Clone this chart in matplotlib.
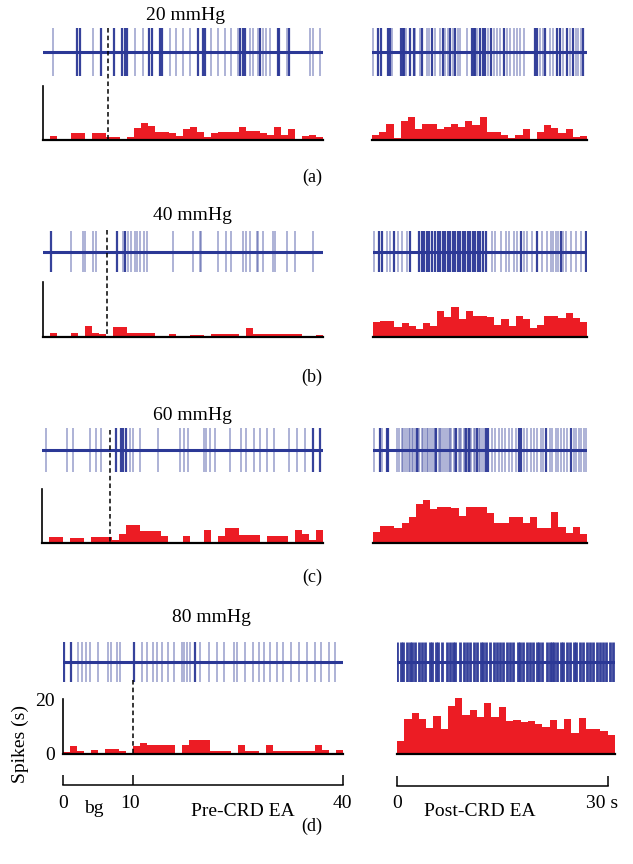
import matplotlib
matplotlib.use('Agg')
import matplotlib.pyplot as plt
from matplotlib.transforms import blended_transform_factory

plt.rcParams['font.family'] = ['Liberation Serif', 'DejaVu Serif']

W, H = 633, 864

pressures = ['20 mmHg', '40 mmHg', '60 mmHg', '80 mmHg']
panel_tags = ['(a)', '(b)', '(c)', '(d)']
onsets = [9.3, 9.1, 9.7, 10.0]   # end of background (s)

# spike times (s); "big" = large-amplitude unit, "small" = small unit
a_pre_big = [4.9, 5.3, 8.3, 10.1, 11.3, 11.7, 12.0, 15.1, 15.5, 16.7, 17.0,
             22.1, 22.9, 23.1, 28.2, 28.5, 28.8, 31.0, 33.6, 33.7, 35.2]
a_pre_small = [1.4, 7.1, 13.2, 14.3, 18.1, 19.0, 20.0, 21.0, 24.0, 25.0, 26.0,
               26.9, 27.9, 29.5, 30.0, 30.7, 31.4, 31.8, 32.4, 34.8, 38.1,
               38.6, 39.5]
a_post_big = [0.9, 1.3, 2.2, 2.5, 4.0, 4.3, 4.5, 5.3, 5.8, 7.0, 8.4, 9.9, 10.9,
              11.6, 14.0, 14.2, 14.4, 15.1, 15.5, 15.8, 16.6, 18.4, 22.8, 23.0,
              24.2, 25.8, 26.3, 27.2, 28.1, 29.5]
a_post_small = [0.2, 2.8, 4.8, 6.0, 6.7, 7.7, 7.9, 8.8, 9.5, 10.2, 10.6, 11.3,
                12.0, 12.3, 13.3, 14.7, 16.2, 17.0, 17.4, 17.9, 18.8, 19.3,
                19.8, 20.2, 20.7, 21.2, 23.5, 23.9, 24.9, 25.3, 26.7, 27.6,
                28.5, 28.8, 29.2]

b_pre_big = [1.2, 10.6, 11.7]
b_pre_small = [4.0, 5.7, 6.0, 7.1, 7.6, 11.4, 12.1, 12.6, 13.1, 13.4, 13.9,
               14.4, 14.9, 18.6, 21.4, 22.4, 22.6, 25.0, 26.2, 26.9, 28.6,
               29.0, 29.5, 30.5, 30.7, 31.4, 32.8, 33.1, 34.8, 36.0, 38.6]
b_post_big = [0.8, 1.3, 2.9, 5.2, 6.5, 6.9, 7.2, 7.6, 7.9, 8.3, 8.7, 9.1, 9.4,
              9.8, 10.1, 10.5, 10.8, 11.2, 11.5, 11.9, 12.2, 12.6, 12.9, 13.3,
              13.6, 14.0, 14.3, 14.7, 15.0, 15.4, 15.9, 20.7, 23.0, 26.3, 29.9]
b_post_small = [0.1, 1.9, 2.4, 3.5, 4.1, 4.8, 16.7, 17.1, 17.9, 18.6, 19.0,
                19.7, 20.2, 21.1, 21.6, 22.3, 23.7, 24.4, 24.9, 25.2, 25.6,
                25.9, 26.6, 27.0, 27.7, 28.4, 29.1]

c_pre_big = [10.5, 11.3, 11.6, 12.0, 38.6, 39.6]
c_pre_small = [0.6, 3.5, 4.4, 6.8, 7.7, 8.4, 12.5, 12.9, 13.9, 16.5, 19.6,
               20.2, 20.8, 23.0, 23.4, 23.9, 24.6, 26.7, 28.3, 29.1, 30.2,
               31.0, 32.0, 33.0, 35.1, 36.3, 37.5]
c_post_big = [1.0, 1.9, 2.1, 6.1, 8.9, 11.7, 13.1, 13.4, 14.6, 15.9, 16.1,
              20.4, 20.7, 24.3, 27.7]
c_post_small = [0.2, 1.2, 3.3, 3.7, 4.0, 4.2, 4.45, 4.7, 5.0, 5.2, 5.4, 5.6,
                5.85, 6.3, 6.5, 6.8, 7.0, 7.3, 7.5, 7.7, 8.0, 8.25, 8.5, 8.7,
                9.2, 9.4, 9.6, 9.8, 10.1, 10.4, 10.6, 10.8, 11.0, 11.3, 11.5,
                12.05, 12.2, 12.4, 12.7, 12.9, 13.25, 13.6, 13.8, 14.1, 14.35,
                14.8, 15.0, 15.25, 15.5, 16.7, 17.1, 17.6, 18.1, 18.5, 19.0,
                19.5, 20.0, 21.1, 21.6, 22.1, 22.5, 23.0, 23.5, 23.9, 24.8,
                25.1, 25.6, 25.9, 26.3, 26.8, 27.2, 28.2, 28.5, 28.9, 29.2,
                29.6, 29.9]

d_pre_big = [0.2, 1.1, 10.1, 18.9]
d_pre_small = [2.2, 2.7, 3.3, 3.9, 5.0, 6.4, 6.8, 7.7, 8.2, 11.3, 12.0, 12.9,
               13.4, 14.1, 15.0, 15.8, 17.0, 17.3, 17.7, 18.1, 19.6, 20.8,
               22.0, 23.0, 24.4, 24.9, 26.0, 27.2, 28.0, 28.7, 29.6, 30.6,
               31.4, 32.5, 33.7, 34.9, 36.0, 36.8, 38.0, 38.9]
d_post_big = [0.0, 0.5, 0.8, 1.4, 1.8, 2.1, 2.5, 3.0, 3.4, 3.9, 4.5, 4.8, 5.3,
              5.7, 6.2, 6.9, 7.3, 7.7, 8.0, 8.7, 9.2, 9.7, 10.1, 10.6, 11.0,
              11.5, 11.9, 12.3, 12.8, 13.3, 13.8, 14.2, 14.6, 15.1, 15.6, 16.0,
              16.6, 16.9, 17.4, 17.9, 18.3, 18.7, 19.2, 19.6, 20.0, 20.6, 21.1,
              21.3, 21.6, 22.0, 22.5, 22.9, 23.4, 23.8, 24.3, 24.7, 25.2, 25.6,
              26.1, 26.5, 27.0, 27.5, 27.9, 28.4, 28.8, 29.3, 29.7]
d_post_small = []

# firing rate, spikes per 1 s bin (40 bins pre, 30 bins post)
a_pre_rate = [0, 1.5, 0.5, 0.5, 2.5, 2.5, 0.5, 2.5, 2.5, 1, 1, 0.3, 1.2, 4.3,
              6.2, 5.2, 3, 3, 2.5, 1.5, 4, 5, 3, 1.2, 2.5, 3, 3, 3, 5, 3.3,
              3.3, 2.5, 2, 5, 2, 4, 0.5, 1.5, 2, 1]
a_post_rate = [2, 3, 5.8, 0.6, 7, 8.5, 4, 5.8, 5.8, 4, 5, 5.8, 5, 7, 5.5, 8.6,
               2.8, 2.8, 1.8, 0.9, 2, 4, 0, 2.8, 5.5, 4.6, 2.5, 4, 1.2, 1.6]
b_pre_rate = [0.5, 1.4, 0.3, 0.3, 1.4, 0.3, 3.9, 1.4, 1, 0.5, 3.7, 3.7, 1.4,
              1.4, 1.4, 1.4, 0, 0, 1, 0.5, 0, 0.7, 0.7, 0, 1, 1, 1, 1, 0, 3.3,
              1, 1, 1, 1, 1, 1, 1, 0, 0, 0.7]
b_post_rate = [5.3, 5.8, 6, 3.5, 5, 4, 3, 5, 4, 9.6, 7.1, 10.9, 6.5, 9.6, 7.8,
               7.8, 7.1, 4.3, 6.5, 4, 7.5, 6.5, 3.4, 4.3, 7.5, 7.5, 6.8, 8.6,
               6.8, 5.5]
c_pre_rate = [0, 2.2, 2.2, 0, 2, 2, 0, 2.2, 2.2, 2.2, 1.2, 3.2, 6.6, 6.6, 4.5,
              4.5, 4.5, 2.6, 0, 0, 2.6, 0, 0, 4.7, 0, 2.5, 5.4, 5.4, 2.9, 2.9,
              2.9, 0, 2.7, 2.7, 2.7, 0, 4.7, 3.5, 1, 4.7]
c_post_rate = [4.1, 6.3, 6.3, 5.4, 7.3, 9.5, 14.4, 16, 12.5, 13.3, 13.3, 13,
               10, 13.3, 13.3, 13.3, 11, 7.5, 7.5, 9.5, 9.5, 7.5, 9.5, 5.4,
               5.4, 11.3, 5.8, 3.8, 5.8, 3.5]
d_pre_rate = [0.8, 3, 1.2, 0, 1.5, 0, 2, 2, 1.2, 0, 3, 4, 3.4, 3.4, 3.4, 3.4,
              0, 3.4, 5.1, 5.1, 5.1, 1.2, 1.2, 1.2, 0, 3.4, 1.2, 1.2, 0, 3.4,
              1.2, 1.2, 1.2, 1.2, 1.2, 1.2, 3.3, 1.5, 0, 1.5]
d_post_rate = [4.8, 12.7, 14.8, 12.7, 9.5, 13.9, 9.1, 17.6, 20.4, 14.3, 16,
               13.3, 18.4, 13.3, 17, 12.1, 12.4, 11.5, 12, 10.9, 9.7, 12.4,
               9.1, 12.7, 7.5, 13, 9.1, 9.1, 8.5, 6.9]

pre_big = [a_pre_big, b_pre_big, c_pre_big, d_pre_big]
pre_small = [a_pre_small, b_pre_small, c_pre_small, d_pre_small]
post_big = [a_post_big, b_post_big, c_post_big, d_post_big]
post_small = [a_post_small, b_post_small, c_post_small, d_post_small]
pre_rate = [a_pre_rate, b_pre_rate, c_pre_rate, d_pre_rate]
post_rate = [a_post_rate, b_post_rate, c_post_rate, d_post_rate]

BLUE = '#2b3896'
RED = '#ec1c24'
FS = 14

# pixel layout of each panel
layout = [
    dict(title=(185, 20), tag=(312, 182), pre_x=(43, 323), post_x=(372, 587),
         trace_y=(28, 76), rate_y=(86, 140), dash_top=28),
    dict(title=(192, 220), tag=(312, 382), pre_x=(43, 323), post_x=(373, 587),
         trace_y=(231, 272), rate_y=(282, 337), dash_top=230),
    dict(title=(192, 420), tag=(312, 582), pre_x=(42, 323), post_x=(373, 587),
         trace_y=(428, 472), rate_y=(489, 543), dash_top=430),
    dict(title=(211, 622), tag=(312, 831), pre_x=(63, 343), post_x=(397, 615),
         trace_y=(642, 682), rate_y=(699, 754), dash_top=680),
]


def box(x0, y0, x1, y1):
    return [x0 / W, 1 - y1 / H, (x1 - x0) / W, (y1 - y0) / H]


def ftext(fig, x, y, s, **kw):
    kw.setdefault('fontsize', FS)
    fig.text(x / W, 1 - y / H, s, **kw)


def draw_trace(ax, big, small, tmax, big_lw=1.6):
    ax.vlines(small, -1, 1, color=BLUE, lw=1.2, alpha=0.45)
    ax.vlines(big, -1, 1, color=BLUE, lw=big_lw, alpha=0.95)
    ax.axhline(0, color=BLUE, lw=2.2)
    ax.set_xlim(0, tmax)
    ax.set_ylim(-1, 1)
    ax.axis('off')


def draw_rate(ax, rate, show_left):
    ax.bar(range(len(rate)), rate, width=1, align='edge', color=RED,
           linewidth=0, clip_on=False)
    ax.set_xlim(0, len(rate))
    ax.set_ylim(0, 20)
    ax.spines['top'].set_visible(False)
    ax.spines['right'].set_visible(False)
    ax.spines['left'].set_visible(show_left)
    ax.spines['left'].set_linewidth(1.2)
    ax.spines['bottom'].set_linewidth(1.6)
    ax.set_xticks([])
    ax.set_yticks([])
    ax.patch.set_alpha(0)


def main():
    fig = plt.figure(figsize=(W / 100, H / 100), dpi=100)

    for i, L in enumerate(layout):
        ty0, ty1 = L['trace_y']
        ry0, ry1 = L['rate_y']
        px0, px1 = L['pre_x']
        qx0, qx1 = L['post_x']

        ax = fig.add_axes(box(px0, ty0, px1, ty1))
        draw_trace(ax, pre_big[i], pre_small[i], 40)
        ax = fig.add_axes(box(qx0, ty0, qx1, ty1))
        draw_trace(ax, post_big[i], post_small[i], 30,
                   big_lw=2.0 if i == 3 else 1.6)

        ax_pre = fig.add_axes(box(px0, ry0, px1, ry1))
        draw_rate(ax_pre, pre_rate[i], True)
        ax_post = fig.add_axes(box(qx0, ry0, qx1, ry1))
        draw_rate(ax_post, post_rate[i], False)

        trans = blended_transform_factory(ax_pre.transData, fig.transFigure)
        ax_pre.plot([onsets[i], onsets[i]], [1 - L['dash_top'] / H, 1 - ry1 / H],
                    transform=trans, color='black', lw=1.1, ls=(0, (3, 2)),
                    clip_on=False, zorder=5)

        ftext(fig, L['title'][0], L['title'][1], pressures[i], ha='center',
              va='baseline')
        ftext(fig, L['tag'][0], L['tag'][1], panel_tags[i], ha='center',
              va='baseline', fontsize=13)

        if i == 3:
            ax_pre.set_yticks([0, 20])
            ax_pre.set_yticklabels(['0', '20'], fontsize=FS)
            ax_pre.tick_params(axis='y', length=0, pad=6)
            ftext(fig, 20, 744, 'Spikes (s)', rotation=90, ha='center',
                  va='center')

            # time brackets
            bx = fig.add_axes(box(63, 775, 343, 785))
            bx.plot([0, 40], [0, 0], color='black', lw=1.1, clip_on=False)
            bx.vlines([0, 10, 40], 0, 1, color='black', lw=1.1, clip_on=False)
            bx.set_xlim(0, 40)
            bx.set_ylim(0, 1)
            bx.axis('off')
            bx2 = fig.add_axes(box(397, 776, 608, 786))
            bx2.plot([0, 30], [0, 0], color='black', lw=1.1, clip_on=False)
            bx2.vlines([0, 30], 0, 1, color='black', lw=1.1, clip_on=False)
            bx2.set_xlim(0, 30)
            bx2.set_ylim(0, 1)
            bx2.axis('off')

            ftext(fig, 63, 808, '0', ha='center', va='baseline')
            ftext(fig, 94, 813, 'bg', ha='center', va='baseline')
            ftext(fig, 130, 808, '10', ha='center', va='baseline')
            ftext(fig, 243, 816, 'Pre-CRD EA', ha='center', va='baseline')
            ftext(fig, 342, 808, '40', ha='center', va='baseline')
            ftext(fig, 397, 808, '0', ha='center', va='baseline')
            ftext(fig, 480, 816, 'Post-CRD EA', ha='center', va='baseline')
            ftext(fig, 602, 808, '30 s', ha='center', va='baseline')

    fig.savefig('out.png', dpi=100)


if __name__ == '__main__':
    main()
